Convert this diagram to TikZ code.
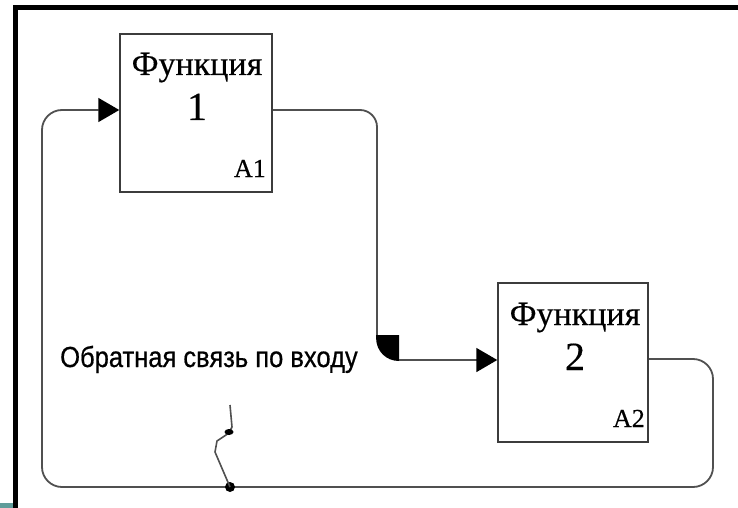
\documentclass[tikz,border=0pt]{standalone}
\usepackage{fontspec}
\setmainfont{Liberation Serif}
\newfontfamily\lblfont[FakeStretch=0.88,FakeBold=0.6]{Liberation Sans}
\newfontfamily\boxfont[FakeBold=0.4]{Liberation Serif}
\usetikzlibrary{arrows.meta}
\definecolor{linegray}{HTML}{505050}
\definecolor{boxgray}{HTML}{3C3C3C}
\definecolor{stripe}{HTML}{5F9C9A}
\tikzset{
  fbox/.style={draw=boxgray, line width=1.5pt, fill=white, inner sep=0pt},
  conn/.style={draw=linegray, line width=1.8pt},
  tip/.style={-{Triangle[length=21pt,width=24pt,color=black,fill=black]}},
  ftitle/.style={inner sep=0pt, anchor=base, font=\boxfont\fontsize{34}{34}\selectfont},
  fnum/.style={inner sep=0pt, anchor=base, font=\boxfont\fontsize{40}{40}\selectfont},
  fcode/.style={inner sep=0pt, anchor=base east, font=\boxfont\fontsize{26}{26}\selectfont},
  lbl/.style={inner sep=0pt, anchor=base west, font=\lblfont\fontsize{29}{29}\selectfont},
  dot/.style={circle, fill=black, inner sep=0pt, minimum size=10pt}
}
\begin{document}
\begin{tikzpicture}[x=1pt,y=-1pt]
\useasboundingbox (0,0) rectangle (738,508);
% frame
\fill[black] (13,5) rectangle (738,10);
\fill[black] (13,5) rectangle (18,508);
\fill[stripe] (0,503) rectangle (13,508);

% boxes
\node[fbox, minimum width=152pt, minimum height=158pt] (f1) at (196,113) {};
\node[fbox, minimum width=150pt, minimum height=159pt] (f2) at (573,362.5) {};

\node[ftitle] (t1) at (197,75) {Функция};
\node[fnum] (n1) at (197,120) {1};
\node[fcode] (a1) at (266,177) {A1};
\node[ftitle] (t2) at (575,325) {Функция};
\node[fnum] (n2) at (575,370) {2};
\node[fcode] (a2) at (645,427) {A2};

\node[lbl] (lab) at (60,367) {Обратная связь по  входу};

% coordinates
\coordinate (c1) at (377,336);
\coordinate (c2) at (399,360);
\coordinate (k1) at (713,359);
\coordinate (k2) at (713,487);
\coordinate (k3) at (42,487);
\coordinate (k4) at (42,110);

% connector 1 -> 2
\draw[conn, rounded corners=17pt] ([yshift=3pt]f1.east) -| (c1);
\fill[black] (376.1,335) -- (399,335) -- (399,361) .. controls (386,361) and (376.1,351) .. (376.1,338) -- cycle;
\draw[conn, tip] (c2) -- ([yshift=2.5pt]f2.west);

% feedback
\draw[conn, rounded corners=20pt, tip] ([yshift=3.5pt]f2.east) -- (k1) -- (k2) -- (k3) -- (k4) -- ([yshift=3pt]f1.west);

% squiggle to label
\node[dot] (d) at (230,487) {};
\coordinate (s0) at (230,405);
\draw[conn, line width=1.6pt, line join=round] (s0) -- (232,427) -- (229,433) -- (217,441) -- (215,452) -- (d.center);
\fill[black] (229,432) ellipse[x radius=4.5pt, y radius=3pt];
\end{tikzpicture}
\end{document}
